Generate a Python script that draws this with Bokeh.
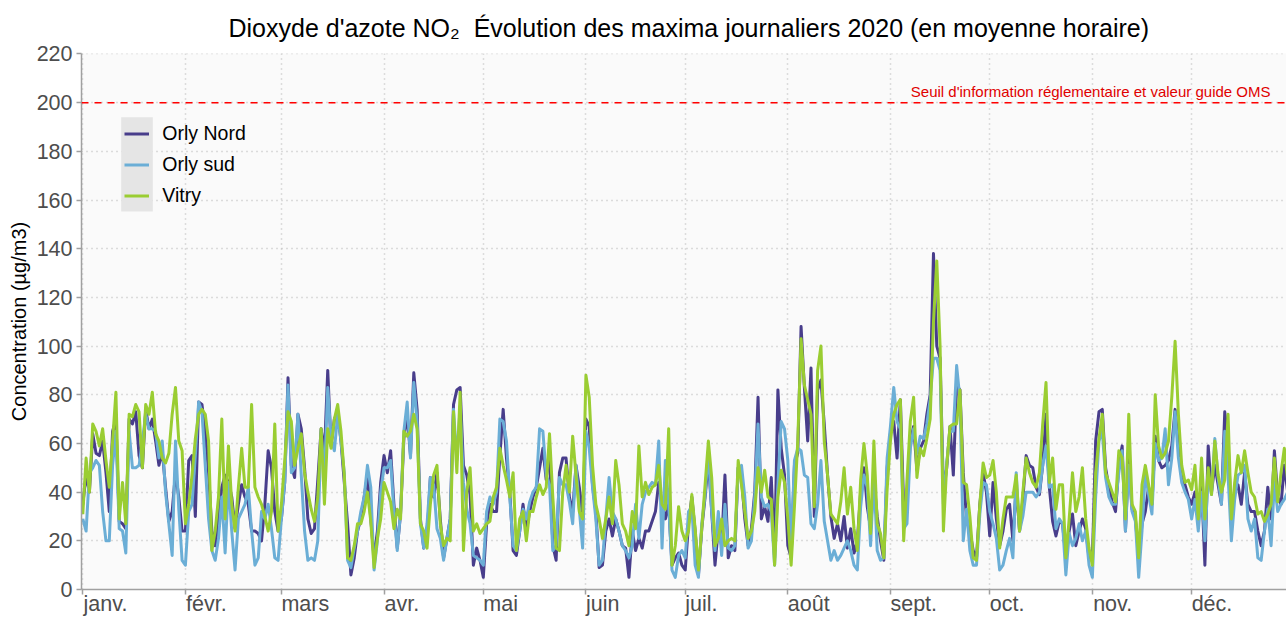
import pandas as pd
from bokeh.plotting import figure
from bokeh.models import (ColumnDataSource, Span, Label, Legend, LegendItem,
                          BoxAnnotation, FixedTicker, Range1d)
from bokeh.embed import file_html
from bokeh.resources import INLINE

# ---------------- data ----------------
dates = pd.date_range("2020-01-01", "2020-12-31", freq="D")

orly_nord = [
    35, 47, 40, 64, 56, 55, 61, 48, 32, 65,
    70, 28, 27, 25, 70, 68, 73, 55, 50, 74,
    66, 70, 61, 51, 57, 42, 28, 32, 48, 38,
    24, 24, 53, 55, 30, 77, 76, 65, 48, 24,
    18, 29, 42, 47, 44, 38, 25, 35, 43, 38,
    35, 24, 24, 23, 20, 35, 57, 50, 32, 24,
    29, 44, 87, 51, 46, 72, 66, 50, 29, 23,
    25, 45, 66, 56, 90, 59, 70, 73, 61, 44,
    27, 6, 13, 24, 29, 38, 47, 29, 13, 24,
    44, 55, 48, 57, 35, 17, 31, 62, 72, 55,
    89, 74, 29, 17, 21, 46, 38, 48, 29, 13,
    21, 29, 76, 82, 83, 51, 47, 39, 10, 17,
    12, 5, 27, 35, 32, 32, 55, 74, 54, 40,
    16, 14, 24, 35, 24, 32, 38, 42, 50, 58,
    45, 58, 18, 12, 48, 54, 54, 38, 32, 51,
    42, 30, 70, 67, 43, 32, 9, 10, 24, 29,
    22, 29, 24, 18, 17, 5, 24, 16, 21, 17,
    24, 24, 28, 32, 44, 35, 29, 35, 10, 13,
    15, 10, 8, 27, 38, 24, 6, 25, 38, 53,
    32, 10, 25, 18, 47, 13, 18, 16, 50, 46,
    29, 18, 25, 40, 79, 29, 34, 28, 46, 13,
    82, 58, 47, 18, 13, 51, 56, 108, 83, 61,
    91, 30, 82, 86, 68, 47, 30, 21, 27, 20,
    30, 17, 25, 15, 20, 40, 50, 34, 25, 45,
    30, 20, 12, 50, 64, 69, 54, 78, 34, 36,
    61, 67, 49, 58, 61, 72, 80, 138, 100, 95,
    40, 50, 67, 47, 84, 82, 48, 29, 24, 16,
    13, 35, 48, 40, 22, 44, 29, 18, 24, 33,
    35, 20, 43, 24, 37, 55, 51, 50, 42, 39,
    51, 72, 42, 28, 22, 28, 27, 13, 24, 31,
    18, 24, 29, 25, 13, 12, 61, 73, 74, 50,
    42, 36, 32, 51, 59, 24, 54, 33, 29, 13,
    27, 32, 42, 35, 63, 53, 50, 51, 53, 59,
    74, 59, 46, 43, 38, 35, 40, 29, 43, 10,
    59, 40, 51, 43, 35, 73, 61, 29, 40, 43,
    35, 48, 35, 32, 32, 24, 18, 24, 42, 29,
    57, 38, 35, 51, 40, 42,
]

orly_sud = [
    29, 24, 48, 50, 53, 51, 32, 20, 20, 51,
    65, 25, 24, 15, 65, 50, 50, 51, 61, 72,
    66, 66, 65, 54, 61, 40, 27, 14, 61, 33,
    12, 10, 32, 35, 55, 77, 73, 51, 29, 16,
    12, 21, 38, 15, 44, 24, 8, 29, 32, 35,
    42, 24, 10, 13, 32, 29, 35, 25, 13, 12,
    29, 44, 84, 48, 50, 72, 47, 24, 12, 13,
    12, 20, 65, 46, 83, 62, 57, 72, 61, 48,
    12, 9, 17, 24, 32, 38, 51, 42, 8, 20,
    40, 50, 50, 53, 32, 16, 32, 65, 77, 54,
    85, 69, 27, 17, 27, 46, 43, 25, 21, 12,
    21, 29, 74, 53, 75, 44, 33, 27, 14, 13,
    12, 10, 32, 38, 35, 40, 70, 69, 61, 38,
    18, 16, 24, 33, 29, 36, 40, 42, 66, 65,
    47, 43, 16, 18, 46, 43, 43, 36, 27, 51,
    33, 17, 65, 58, 42, 29, 10, 12, 29, 46,
    32, 29, 24, 18, 16, 13, 18, 35, 21, 35,
    40, 42, 44, 43, 61, 17, 53, 35, 8, 5,
    14, 16, 13, 32, 34, 10, 5, 27, 39, 57,
    32, 16, 32, 14, 35, 17, 16, 18, 50, 51,
    38, 17, 20, 38, 68, 38, 34, 35, 32, 10,
    43, 69, 66, 53, 17, 53, 58, 57, 47, 46,
    27, 25, 35, 53, 28, 20, 12, 16, 12, 14,
    17, 20, 16, 10, 8, 34, 47, 42, 18, 47,
    16, 12, 13, 54, 67, 83, 69, 66, 25, 27,
    58, 66, 56, 63, 62, 68, 78, 95, 95, 90,
    35, 52, 65, 65, 92, 78, 20, 33, 16, 10,
    10, 31, 44, 43, 32, 27, 21, 8, 10, 16,
    21, 13, 48, 24, 30, 40, 40, 40, 38, 40,
    51, 59, 42, 43, 25, 29, 27, 6, 23, 18,
    21, 27, 20, 24, 10, 5, 38, 61, 65, 46,
    38, 35, 35, 48, 57, 24, 51, 32, 28, 5,
    24, 48, 39, 31, 60, 53, 54, 66, 43, 54,
    73, 54, 44, 40, 37, 29, 37, 24, 40, 20,
    47, 39, 62, 46, 35, 65, 47, 20, 37, 47,
    48, 51, 29, 24, 29, 13, 12, 24, 33, 18,
    44, 32, 35, 37, 40, 38,
]

vitry = [
    31, 54, 40, 68, 65, 59, 66, 53, 42, 61,
    81, 29, 44, 27, 72, 71, 76, 73, 50, 76,
    72, 81, 64, 61, 54, 52, 56, 72, 83, 61,
    57, 27, 35, 47, 62, 72, 74, 72, 61, 16,
    24, 38, 70, 29, 59, 35, 24, 42, 58, 42,
    42, 76, 42, 38, 35, 30, 24, 32, 68, 24,
    35, 53, 73, 69, 51, 58, 64, 48, 40, 33,
    28, 38, 66, 35, 66, 58, 70, 76, 65, 47,
    13, 12, 18, 27, 27, 32, 40, 28, 9, 21,
    29, 44, 40, 36, 25, 33, 29, 65, 63, 65,
    72, 66, 27, 24, 17, 35, 47, 51, 27, 18,
    21, 20, 73, 48, 81, 16, 40, 50, 24, 27,
    23, 25, 27, 28, 38, 42, 58, 51, 45, 38,
    48, 16, 29, 32, 20, 32, 32, 38, 43, 39,
    42, 64, 38, 17, 16, 40, 51, 40, 63, 47,
    32, 29, 88, 79, 51, 35, 29, 21, 29, 38,
    27, 53, 43, 27, 24, 18, 32, 25, 59, 38,
    44, 39, 42, 43, 51, 35, 33, 66, 10, 18,
    34, 24, 20, 24, 39, 25, 8, 25, 43, 61,
    46, 18, 21, 29, 18, 20, 21, 20, 53, 43,
    32, 21, 24, 32, 50, 40, 49, 38, 37, 10,
    38, 49, 44, 29, 10, 34, 61, 103, 84, 78,
    72, 34, 90, 100, 61, 47, 31, 29, 27, 36,
    50, 31, 42, 25, 16, 45, 60, 47, 23, 61,
    27, 23, 13, 41, 61, 72, 76, 78, 20, 45,
    69, 79, 46, 58, 55, 62, 70, 110, 135, 100,
    24, 51, 67, 68, 68, 82, 44, 43, 30, 13,
    12, 35, 52, 46, 47, 53, 40, 17, 29, 38,
    38, 38, 47, 24, 40, 54, 48, 44, 42, 48,
    68, 85, 44, 54, 33, 43, 43, 13, 29, 48,
    32, 38, 50, 29, 17, 10, 48, 62, 72, 48,
    44, 40, 36, 57, 54, 29, 72, 35, 32, 13,
    43, 51, 43, 35, 80, 59, 54, 56, 61, 79,
    102, 72, 51, 44, 45, 41, 51, 29, 54, 29,
    50, 39, 61, 47, 40, 45, 72, 29, 44, 55,
    48, 57, 48, 40, 38, 31, 32, 28, 31, 35,
    54, 36, 48, 58, 45, 40,
]

month_labels = ["janv.", "févr.", "mars", "avr.", "mai", "juin",
                "juil.", "août", "sept.", "oct.", "nov.", "déc."]
month_starts = pd.date_range("2020-01-01", periods=12, freq="MS")
y_ticks = list(range(0, 221, 20))
seuil = 200
seuil_text = "Seuil d'information réglementaire et valeur guide OMS"
series_names = ["Orly Nord", "Orly sud", "Vitry"]
series_colors = ["#483D8B", "#6BAED6", "#9ACD32"]
title_text = "Dioxyde d'azote NO\u2082\u00a0\u00a0Évolution des maxima journaliers 2020 (en moyenne horaire)"
y_title = "Concentration (µg/m3)"

# ---------------- layout helpers ----------------
FONT = "Liberation Sans"
W, H = 1286, 618
FL, FT, FB = 81, 53, 589          # frame left / top / bottom (px)
FRAME_W = W - FL
PX_PER_DAY = 3.31
DAY_MS = 86400000.0
jan1_ms = pd.Timestamp("2020-01-01").value / 1e6
x_start = jan1_ms - (1.3 / PX_PER_DAY) * DAY_MS
x_end = x_start + (FRAME_W / PX_PER_DAY) * DAY_MS

TICK_FONT_PX = 21.5
# Arial / Liberation Sans advance widths (em) for left-aligning month labels
EM = {'j': .222, 'a': .556, 'n': .556, 'v': .5, '.': .278, 'f': .278,
      'é': .556, 'r': .333, 'm': .833, 's': .5, 'i': .222, 'u': .556,
      'l': .222, 'o': .556, 'û': .556, 't': .278, 'p': .556, 'e': .556,
      'c': .5, 'd': .556}


def text_w(s, px):
    return sum(EM.get(ch, .556) for ch in s) * px


# ---------------- figure ----------------
p = figure(width=W, height=H, x_axis_type="datetime",
           x_range=Range1d(x_start, x_end), y_range=Range1d(0, 220.2),
           output_backend="svg", toolbar_location=None,
           min_border_left=FL, min_border_right=0,
           min_border_top=FT, min_border_bottom=H - FB)
p.outline_line_color = None
p.background_fill_color = "#FAFAFA"
p.border_fill_color = "white"

p.title.text = title_text
p.title.text_font = FONT
p.title.text_font_size = "25px"
p.title.text_font_style = "normal"
p.title.text_color = "black"
p.title.align = "left"
p.title.offset = 228 - FL
p.title.standoff = 23

src = ColumnDataSource(dict(date=dates, orly_nord=orly_nord,
                            orly_sud=orly_sud, vitry=vitry))

renderers = []
for col, color in zip(["orly_nord", "orly_sud", "vitry"], series_colors):
    r = p.line(x="date", y=col, source=src, line_color=color,
               line_width=3, line_join="round")
    renderers.append(r)

# x axis: tick marks (minor) at month starts, names (major, tick-less)
# placed so that each name starts at its month
tick_ms = [ts.value / 1e6 for ts in month_starts]
label_pos = [t + (text_w(m, TICK_FONT_PX) / 2 / PX_PER_DAY) * DAY_MS
             for m, t in zip(month_labels, tick_ms)]
xa = p.xaxis[0]
xa.ticker = FixedTicker(ticks=label_pos, minor_ticks=tick_ms)
xa.major_label_overrides = {pos: m for pos, m in zip(label_pos, month_labels)}
xa.major_tick_line_color = None
xa.major_tick_out = 0
xa.major_tick_in = 0
xa.minor_tick_line_color = "#A0A0A0"
xa.minor_tick_line_width = 1.5
xa.minor_tick_out = 5
xa.minor_tick_in = 0
xa.major_label_standoff = -3
xa.major_label_text_font = FONT
xa.major_label_text_font_size = f"{TICK_FONT_PX}px"
xa.major_label_text_color = "#4D4D4D"
xa.axis_line_color = "#A0A0A0"
xa.axis_line_width = 1.5

ya = p.yaxis[0]
ya.ticker = FixedTicker(ticks=y_ticks)
ya.major_label_text_font = FONT
ya.major_label_text_font_size = f"{TICK_FONT_PX}px"
ya.major_label_text_color = "#4D4D4D"
ya.major_label_standoff = 4
ya.axis_label = y_title
ya.axis_label_text_font = FONT
ya.axis_label_text_font_size = "20px"
ya.axis_label_text_font_style = "normal"
ya.axis_label_text_color = "black"
ya.axis_label_standoff = 4
ya.axis_line_color = "#A0A0A0"
ya.axis_line_width = 1.5
ya.major_tick_line_color = "#A0A0A0"
ya.major_tick_line_width = 1.5
ya.major_tick_out = 5
ya.major_tick_in = 0
ya.minor_tick_out = 0
ya.minor_tick_in = 0

p.xgrid.ticker = FixedTicker(ticks=tick_ms)
p.grid.grid_line_color = "#BDBDBD"
p.grid.grid_line_dash = "1 4"
p.grid.grid_line_width = 1.5

# threshold line + text
p.add_layout(Span(location=seuil, dimension="width", line_color="red",
                  line_width=1.5, line_dash="7 6"))
p.add_layout(Label(x=1270 - FL, y=204.5, x_units="screen", y_units="data",
                   text=seuil_text, text_align="right",
                   text_baseline="middle", text_font=FONT,
                   text_font_size="15px", text_color="#E00000"))

# legend key background
p.add_layout(BoxAnnotation(left=120.7 - FL, right=152.3 - FL,
                           top=FB - 116.7, bottom=FB - 211,
                           left_units="screen", right_units="screen",
                           top_units="screen", bottom_units="screen",
                           fill_color="#E5E5E5", fill_alpha=1.0,
                           line_alpha=0))

legend = Legend(items=[LegendItem(label=n, renderers=[r])
                       for n, r in zip(series_names, renderers)],
                location=(124.3 - FL, FB - 211.2), orientation="vertical",
                glyph_width=25, glyph_height=31, label_height=31,
                spacing=0, padding=0, margin=0, label_standoff=13,
                label_text_font=FONT, label_text_font_size="19.5px",
                label_text_color="black",
                background_fill_alpha=0, border_line_alpha=0)
p.add_layout(legend)

open("out.html", "w").write(file_html(p, INLINE))
